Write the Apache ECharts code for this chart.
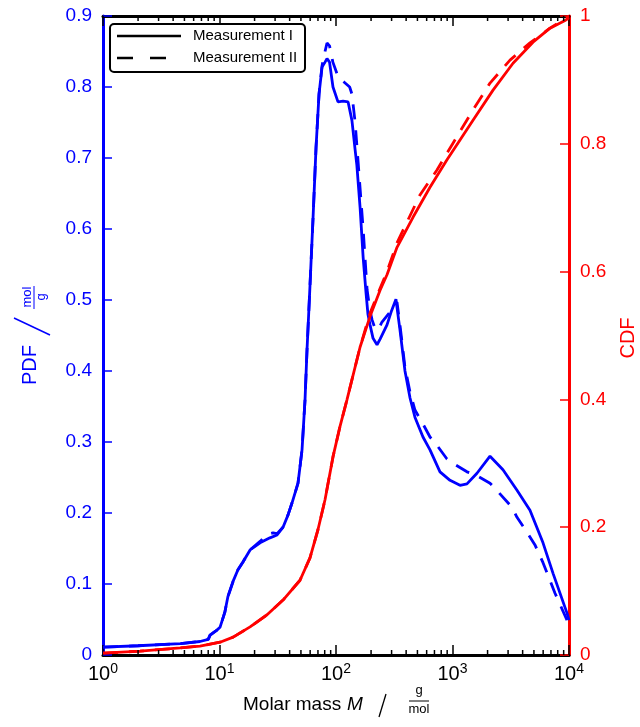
<!DOCTYPE html>
<html>
<head>
<meta charset="utf-8">
<script src="https://cdn.jsdelivr.net/npm/echarts@6/dist/echarts.min.js"></script>
<style>html,body{margin:0;padding:0;background:#fff}#c{width:640px;height:727px}</style>
</head>
<body>
<div id="c"></div>
<script>
// ---- data ----
const xTickExponents = ['0', '1', '2', '3', '4'];
const pdfTickLabels = ['0', '0.1', '0.2', '0.3', '0.4', '0.5', '0.6', '0.7', '0.8', '0.9'];
const cdfTickLabels = ['0', '0.2', '0.4', '0.6', '0.8', '1'];
const seriesNames = ['Measurement I', 'Measurement II'];

const pdf1M = [1, 2, 4.6, 6.8, 8, 8.3, 9.5, 10.1, 11.1, 11.8, 13.1, 14.4, 15.9, 18.3, 22.3, 27.1, 31.2, 35.1, 38.7, 41.9, 47.2, 51.1, 54.2, 56.4, 59.8, 63.5, 67.4, 71.5, 75.9, 80.5, 83.7, 88, 94.2, 104, 115, 127, 137, 146, 151, 161, 171, 181, 188, 196, 208, 225, 239, 274, 300, 327, 354, 391, 432, 476, 558, 641, 781, 952, 1160, 1331, 1622, 2099, 2712, 3579, 4624, 5983, 7295, 9616, 10000];
const pdf1V = [0.011, 0.013, 0.016, 0.019, 0.022, 0.028, 0.035, 0.039, 0.06, 0.082, 0.104, 0.12, 0.131, 0.148, 0.158, 0.165, 0.169, 0.18, 0.197, 0.214, 0.242, 0.289, 0.359, 0.43, 0.52, 0.615, 0.715, 0.79, 0.828, 0.835, 0.84, 0.835, 0.80, 0.779, 0.78, 0.779, 0.753, 0.711, 0.69, 0.63, 0.56, 0.51, 0.48, 0.465, 0.446, 0.437, 0.445, 0.465, 0.485, 0.501, 0.458, 0.40, 0.362, 0.335, 0.307, 0.289, 0.258, 0.246, 0.239, 0.241, 0.256, 0.28, 0.261, 0.232, 0.204, 0.158, 0.115, 0.059, 0.049];

const pdf2M = [1, 2, 4.6, 6.8, 8, 8.3, 9.5, 10.1, 11.1, 11.8, 13.1, 14.4, 15.9, 18.3, 22.3, 25.6, 28.8, 31.2, 35.1, 38.7, 41.9, 47.2, 51.1, 54.2, 56.4, 59.8, 63.5, 67.4, 71.5, 75.9, 80.5, 83.7, 88, 94, 104, 119, 131, 137, 146, 155, 171, 185, 196, 204, 216, 230, 248, 291, 334, 354, 391, 432, 476, 547, 641, 708, 897, 1010, 1331, 1560, 2099, 2460, 3242, 3579, 4358, 5105, 5983, 7586, 9616, 10000];
const pdf2V = [0.011, 0.013, 0.016, 0.019, 0.022, 0.028, 0.035, 0.039, 0.06, 0.082, 0.104, 0.12, 0.131, 0.148, 0.16, 0.17, 0.172, 0.171, 0.18, 0.197, 0.214, 0.242, 0.289, 0.359, 0.43, 0.52, 0.615, 0.715, 0.79, 0.83, 0.85, 0.862, 0.858, 0.835, 0.815, 0.806, 0.80, 0.79, 0.75, 0.693, 0.60, 0.514, 0.485, 0.472, 0.46, 0.458, 0.469, 0.483, 0.497, 0.465, 0.405, 0.37, 0.345, 0.328, 0.307, 0.299, 0.276, 0.27, 0.258, 0.254, 0.242, 0.23, 0.208, 0.194, 0.173, 0.155, 0.13, 0.087, 0.049, 0.045];

const cdf1M = [1, 2.08, 4.58, 6.8, 10.1, 13.1, 18.3, 25.6, 35.1, 49.1, 59.8, 70, 80.5, 94.2, 108, 124, 161, 196, 239, 274, 334, 458, 641, 897, 1500, 2228, 3307, 4907, 6871, 9247, 10000];
const cdf1V = [0.003, 0.006, 0.011, 0.014, 0.02, 0.028, 0.044, 0.063, 0.086, 0.117, 0.152, 0.196, 0.243, 0.31, 0.357, 0.399, 0.482, 0.53, 0.571, 0.595, 0.638, 0.685, 0.732, 0.775, 0.837, 0.884, 0.926, 0.959, 0.981, 0.993, 0.997];

const cdf2M = [1, 2.08, 4.58, 6.8, 10.1, 13.1, 18.3, 25.6, 35.1, 49.1, 59.8, 70, 80.5, 94.2, 108, 124, 161, 196, 225, 274, 334, 526, 736, 1010, 1500, 2099, 3117, 4624, 6871, 10000];
const cdf2V = [0.003, 0.006, 0.011, 0.014, 0.02, 0.028, 0.044, 0.063, 0.086, 0.117, 0.152, 0.196, 0.243, 0.31, 0.357, 0.399, 0.482, 0.535, 0.562, 0.60, 0.645, 0.72, 0.759, 0.801, 0.853, 0.895, 0.931, 0.958, 0.981, 1.0];

// ---- chart ----
const FONT = 'Liberation Sans';
const BLUE = '#0000ff', RED = '#ff0000';
const pair = (xs, ys) => xs.map((x, i) => [x, ys[i]]);

// minor tick positions on the log axis (2..9 x 10^k)
const minorTicks = [];
for (let k = 0; k < 4; k++) for (let m = 2; m <= 9; m++) minorTicks.push([m * Math.pow(10, k), 0]);

const chart = echarts.init(document.getElementById('c'), null, {renderer: 'canvas'});

const xLabelFmt = v => {
  const e = Math.round(Math.log10(v));
  return '{b|10}{s|' + xTickExponents[e] + '}';
};

const baseX = {
  type: 'log', logBase: 10, min: 1, max: 10000, gridIndex: 0,
  splitLine: {show: false},
  axisLine: {show: true, onZero: false, lineStyle: {color: '#000', width: 3}},
  axisTick: {show: true, inside: true, length: 10, lineStyle: {color: '#000', width: 1.5}},
};

chart.setOption({
  animation: false,
  backgroundColor: '#fff',
  grid: {left: 103, right: 71, top: 16, bottom: 72, containLabel: false},
  xAxis: [
    Object.assign({}, baseX, {
      position: 'bottom',
      axisLabel: {
        show: true, margin: 7, formatter: xLabelFmt,
        rich: {
          b: {fontFamily: FONT, fontSize: 20, color: '#000', verticalAlign: 'bottom', lineHeight: 22},
          s: {fontFamily: FONT, fontSize: 14, color: '#000', verticalAlign: 'top', lineHeight: 14}
        }
      }
    }),
    Object.assign({}, baseX, {position: 'top', axisLabel: {show: false}})
  ],
  yAxis: [
    {
      type: 'value', min: 0, max: 0.9, interval: 0.1, position: 'left',
      splitLine: {show: false},
      axisLine: {show: true, onZero: false, lineStyle: {color: BLUE, width: 3}},
      axisTick: {show: true, inside: true, length: 9, lineStyle: {color: BLUE, width: 1.5}},
      axisLabel: {
        color: BLUE, fontFamily: FONT, fontSize: 19, margin: 11,
        formatter: v => pdfTickLabels[Math.round(v * 10)]
      }
    },
    {
      type: 'value', min: 0, max: 1, interval: 0.2, position: 'right',
      splitLine: {show: false},
      axisLine: {show: true, onZero: false, lineStyle: {color: RED, width: 3}},
      axisTick: {show: true, inside: true, length: 9, lineStyle: {color: RED, width: 1.5}},
      axisLabel: {
        color: RED, fontFamily: FONT, fontSize: 19, margin: 11,
        formatter: v => cdfTickLabels[Math.round(v * 5)]
      }
    }
  ],
  series: [
    {
      name: seriesNames[0], type: 'line', xAxisIndex: 0, yAxisIndex: 0,
      data: pair(pdf1M, pdf1V), showSymbol: false, symbol: 'none', z: 3,
      lineStyle: {color: BLUE, width: 2.8, type: 'solid'}
    },
    {
      name: seriesNames[1], type: 'line', xAxisIndex: 0, yAxisIndex: 0,
      data: pair(pdf2M, pdf2V), showSymbol: false, symbol: 'none', z: 3,
      lineStyle: {color: BLUE, width: 2.8, type: [15, 11], cap: 'butt'}
    },
    {
      name: seriesNames[0] + ' CDF', type: 'line', xAxisIndex: 0, yAxisIndex: 1,
      data: pair(cdf1M, cdf1V), showSymbol: false, symbol: 'none', z: 4,
      lineStyle: {color: RED, width: 2.8, type: 'solid'}
    },
    {
      name: seriesNames[1] + ' CDF', type: 'line', xAxisIndex: 0, yAxisIndex: 1,
      data: pair(cdf2M, cdf2V), showSymbol: false, symbol: 'none', z: 4,
      lineStyle: {color: RED, width: 2.8, type: [15, 11], cap: 'butt'}
    },
    {
      type: 'custom', xAxisIndex: 0, yAxisIndex: 0, silent: true, clip: false, z: 5,
      data: minorTicks,
      renderItem: (params, api) => {
        const pb = api.coord([api.value(0), 0]);
        const pt = api.coord([api.value(0), 0.9]);
        return {
          type: 'group',
          children: [
            {type: 'line', shape: {x1: pb[0], y1: pb[1], x2: pb[0], y2: pb[1] - 5}, style: {stroke: '#000', lineWidth: 1.5}},
            {type: 'line', shape: {x1: pt[0], y1: pt[1], x2: pt[0], y2: pt[1] + 5}, style: {stroke: '#000', lineWidth: 1.5}}
          ]
        };
      }
    }
  ],
  graphic: [
    // legend
    {type: 'rect', z: 100, shape: {x: 110, y: 24, width: 195, height: 48, r: 4}, style: {fill: '#fff', stroke: '#000', lineWidth: 2}},
    {type: 'line', z: 101, shape: {x1: 117, y1: 36, x2: 181, y2: 36}, style: {stroke: '#000', lineWidth: 2.5}},
    {type: 'line', z: 101, shape: {x1: 117, y1: 58, x2: 181, y2: 58}, style: {stroke: '#000', lineWidth: 2.5, lineDash: [16, 17]}},
    {type: 'text', z: 101, x: 193, y: 36, style: {text: seriesNames[0], fontFamily: FONT, fontSize: 15, fill: '#000', verticalAlign: 'middle'}},
    {type: 'text', z: 101, x: 193, y: 58, style: {text: seriesNames[1], fontFamily: FONT, fontSize: 15, fill: '#000', verticalAlign: 'middle'}},
    // left y label: PDF / (mol / g)
    {type: 'text', x: 30, y: 365, rotation: Math.PI / 2, style: {text: 'PDF', fontFamily: FONT, fontSize: 20, fill: BLUE, align: 'center', verticalAlign: 'middle'}},
    {type: 'line', shape: {x1: 50, y1: 335, x2: 14, y2: 318}, style: {stroke: BLUE, lineWidth: 1.5}},
    {type: 'text', x: 27, y: 297, rotation: Math.PI / 2, style: {text: 'mol', fontFamily: FONT, fontSize: 13, fill: BLUE, align: 'center', verticalAlign: 'middle'}},
    {type: 'line', shape: {x1: 34, y1: 286, x2: 34, y2: 309}, style: {stroke: BLUE, lineWidth: 1}},
    {type: 'text', x: 41, y: 297, rotation: Math.PI / 2, style: {text: 'g', fontFamily: FONT, fontSize: 13, fill: BLUE, align: 'center', verticalAlign: 'middle'}},
    // right y label
    {type: 'text', x: 628, y: 338, rotation: Math.PI / 2, style: {text: 'CDF', fontFamily: FONT, fontSize: 20, fill: RED, align: 'center', verticalAlign: 'middle'}},
    // x label: Molar mass M / (g / mol)
    {type: 'text', x: 243, y: 705, style: {text: 'Molar mass', fontFamily: FONT, fontSize: 19, fill: '#000', align: 'left', verticalAlign: 'middle'}},
    {type: 'text', x: 347, y: 705, style: {text: 'M', fontFamily: FONT, fontSize: 19, fontStyle: 'italic', fill: '#000', align: 'left', verticalAlign: 'middle'}},
    {type: 'line', shape: {x1: 386, y1: 694, x2: 379, y2: 717}, style: {stroke: '#000', lineWidth: 1.3}},
    {type: 'text', x: 419, y: 690, style: {text: 'g', fontFamily: FONT, fontSize: 13, fill: '#000', align: 'center', verticalAlign: 'middle'}},
    {type: 'line', shape: {x1: 409, y1: 701, x2: 429, y2: 701}, style: {stroke: '#000', lineWidth: 1}},
    {type: 'text', x: 419, y: 709, style: {text: 'mol', fontFamily: FONT, fontSize: 13, fill: '#000', align: 'center', verticalAlign: 'middle'}}
  ]
});
</script>
</body>
</html>
